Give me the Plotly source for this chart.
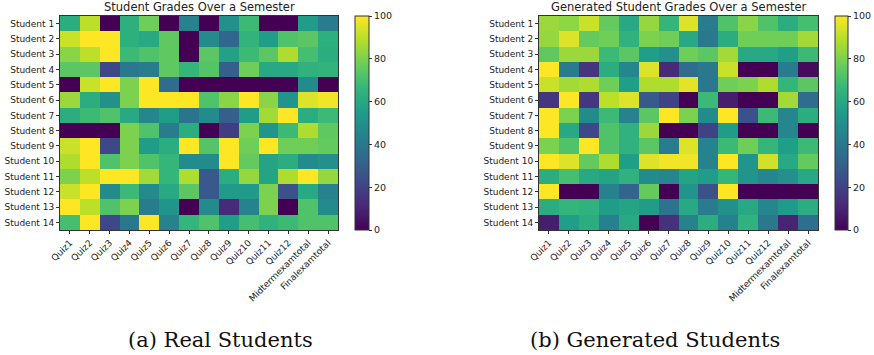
import plotly.graph_objects as go

students = [f"Student {i}" for i in range(1, 15)]
columns = ["Quiz1", "Quiz2", "Quiz3", "Quiz4", "Quiz5", "Quiz6", "Quiz7", "Quiz8",
           "Quiz9", "Quiz10", "Quiz11", "Quiz12", "Midtermexamtotal", "Finalexamtotal"]

real_grades = [
    [62, 90, 0, 63, 78, 0, 45, 0, 50, 68, 0, 0, 55, 42],
    [92, 100, 100, 63, 60, 75, 0, 48, 33, 65, 55, 72, 74, 63],
    [82, 90, 100, 68, 72, 75, 0, 74, 57, 68, 74, 88, 70, 62],
    [74, 74, 22, 40, 42, 75, 66, 73, 30, 78, 60, 60, 64, 65],
    [0, 92, 100, 80, 100, 35, 0, 0, 0, 0, 0, 0, 48, 0],
    [85, 62, 50, 80, 100, 100, 100, 72, 82, 100, 82, 52, 95, 98],
    [62, 68, 72, 60, 46, 55, 38, 48, 30, 55, 86, 100, 62, 68],
    [0, 0, 0, 80, 72, 42, 62, 0, 18, 80, 52, 68, 88, 75],
    [92, 100, 22, 80, 55, 62, 100, 73, 100, 78, 100, 78, 78, 76],
    [88, 100, 72, 80, 72, 66, 48, 48, 100, 76, 58, 62, 48, 50],
    [80, 90, 100, 100, 86, 66, 88, 28, 62, 84, 58, 88, 100, 84],
    [92, 100, 48, 68, 48, 60, 74, 28, 54, 54, 80, 25, 60, 45],
    [100, 90, 72, 80, 42, 52, 0, 48, 12, 45, 80, 0, 72, 48],
    [70, 100, 22, 40, 100, 45, 66, 72, 56, 70, 64, 68, 72, 72],
]

generated_grades = [
    [85, 83, 92, 76, 60, 84, 66, 95, 42, 72, 82, 72, 62, 70],
    [84, 95, 76, 78, 64, 80, 78, 60, 40, 62, 78, 78, 78, 86],
    [75, 85, 85, 68, 74, 56, 50, 78, 74, 86, 60, 60, 56, 68],
    [100, 42, 15, 62, 46, 95, 12, 35, 40, 92, 0, 0, 42, 3],
    [92, 86, 88, 78, 56, 88, 88, 96, 40, 78, 80, 88, 66, 74],
    [15, 100, 16, 90, 95, 28, 20, 0, 68, 8, 0, 0, 86, 35],
    [100, 80, 48, 68, 45, 74, 100, 80, 48, 100, 25, 68, 46, 62],
    [100, 60, 22, 72, 64, 85, 0, 0, 20, 55, 0, 0, 46, 0],
    [80, 72, 100, 72, 64, 74, 42, 95, 45, 68, 78, 66, 56, 68],
    [100, 95, 76, 88, 56, 95, 98, 98, 45, 100, 52, 93, 60, 76],
    [62, 70, 60, 58, 64, 48, 46, 58, 55, 66, 52, 46, 50, 60],
    [100, 0, 0, 45, 32, 76, 0, 52, 25, 100, 0, 0, 0, 0],
    [62, 66, 64, 55, 58, 55, 38, 60, 42, 50, 60, 46, 54, 62],
    [8, 56, 62, 44, 60, 0, 14, 45, 62, 44, 64, 40, 10, 36],
]

titles = ["Student Grades Over a Semester", "Generated Student Grades Over a Semester"]
captions = ["(a) Real Students", "(b) Generated Students"]
colorbar_ticks = [0, 20, 40, 60, 80, 100]

W, H = 874, 355
def fx(px):
    return px / W
def fy(py):
    return 1 - py / H

panels = [
    dict(x0=60, x1=338, cb0=355, cb1=369, cap=220),
    dict(x0=539, x1=818, cb0=835, cb1=848, cap=655),
]
y0, y1 = 16, 230
FONT = "DejaVu Sans"

fig = go.Figure()
data_sets = [real_grades, generated_grades]
for i, (p, z) in enumerate(zip(panels, data_sets)):
    ax = "" if i == 0 else "2"
    fig.add_trace(go.Heatmap(
        z=z, x=columns, y=students,
        colorscale="Viridis", zmin=0, zmax=100,
        xaxis="x" + ax, yaxis="y" + ax,
        colorbar=dict(
            x=fx(p["cb0"]), xanchor="left", xref="paper",
            y=fy(y1), yanchor="bottom", len=(y1 - y0) / H, lenmode="fraction",
            thickness=p["cb1"] - p["cb0"], thicknessmode="pixels",
            outlinewidth=1, outlinecolor="#333333",
            tickvals=colorbar_ticks, ticks="outside", ticklen=3, tickcolor="#333333",
            tickfont=dict(family=FONT, size=9.5, color="#222222"),
            xpad=0, ypad=0,
        ),
    ))
    fig.add_annotation(text=titles[i], x=fx((p["x0"] + p["x1"]) / 2), y=fy(7.5),
                       xref="paper", yref="paper", showarrow=False,
                       font=dict(family=FONT, size=11.5, color="#222222"),
                       xanchor="center", yanchor="middle")
    fig.add_annotation(text=captions[i], x=fx(p["cap"]), y=fy(340),
                       xref="paper", yref="paper", showarrow=False,
                       font=dict(family="DejaVu Serif", size=21, color="#111111"),
                       xanchor="center", yanchor="middle")

axis_common = dict(showline=True, linecolor="#333333", linewidth=1, mirror=True,
                   ticks="outside", ticklen=3, tickcolor="#333333",
                   tickfont=dict(family=FONT, size=9, color="#222222"),
                   showgrid=False, zeroline=False, automargin=False)

fig.update_layout(
    width=W, height=H, margin=dict(l=0, r=0, t=0, b=0, autoexpand=False),
    paper_bgcolor="white", plot_bgcolor="white",
    xaxis=dict(domain=[fx(panels[0]["x0"]), fx(panels[0]["x1"])], anchor="y",
               tickangle=-45, **axis_common),
    yaxis=dict(domain=[fy(y1), fy(y0)], anchor="x", autorange="reversed", **axis_common),
    xaxis2=dict(domain=[fx(panels[1]["x0"]), fx(panels[1]["x1"])], anchor="y2",
                tickangle=-45, **axis_common),
    yaxis2=dict(domain=[fy(y1), fy(y0)], anchor="x2", autorange="reversed", **axis_common),
    showlegend=False,
)

fig.write_html("out.html", config={"displayModeBar": False},
               post_script="document.body.style.margin='0';document.body.style.overflow='hidden';")
